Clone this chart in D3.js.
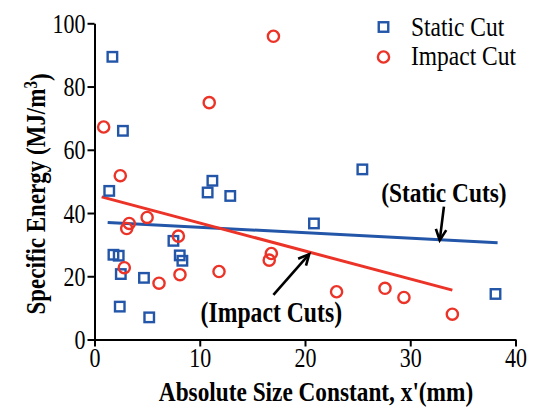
<!DOCTYPE html>
<html>
<head>
<meta charset="utf-8">
<script src="https://cdn.jsdelivr.net/npm/d3@7"></script>
<style>
  body { margin: 0; background: #fff; }
  svg { display: block; }
  text { font-family: "Liberation Serif", "Times New Roman", serif; fill: #000; }
</style>
</head>
<body>
<div id="chart"></div>
<script>
// values
const staticX = [1.7, 2.7, 1.4, 10.75, 11.2, 12.9, 1.8, 2.3, 2.5, 2.4, 4.7, 5.2, 7.5, 8.1, 8.35, 20.85, 25.45, 38.1];
const staticY = [89.4, 66.0, 47.0, 46.5, 50.2, 45.4, 26.8, 26.5, 20.7, 10.4, 19.5, 7.0, 31.2, 26.6, 24.9, 36.7, 53.8, 14.4];
const impactX = [0.87, 2.45, 10.9, 17.0, 3.3, 3.06, 5.0, 7.97, 2.83, 6.13, 8.12, 11.83, 16.8, 16.6, 23.0, 27.6, 29.4, 34.0];
const impactY = [67.2, 51.8, 74.9, 95.9, 36.7, 35.1, 38.6, 32.7, 22.7, 17.8, 20.5, 21.5, 27.2, 25.1, 15.1, 16.2, 13.3, 8.0];

// trend lines (end points)
const staticFit = [[1.25, 37.0], [38.3, 30.6]];
const impactFit = [[0.68, 45.1], [34.0, 15.6]];

const xTicks = [0, 10, 20, 30, 40];
const yTicks = [0, 20, 40, 60, 80, 100];

const blue = "#2356a8";
const red = "#ec3328";
const stretch = 1.2; // the original lettering is taller than Times

const outerWidth = 534;
const outerHeight = 408;
const margin = { top: 23.3, right: 18.5, bottom: 68.5, left: 94.5 };
const width = outerWidth - margin.left - margin.right;
const height = outerHeight - margin.top - margin.bottom;

const svg = d3.select('#chart').append('svg')
  .attr('width', outerWidth)
  .attr('height', outerHeight);

const g = svg.append('g')
  .attr('transform', `translate(${margin.left},${margin.top})`);

const x = d3.scaleLinear().domain([0, 40]).range([0, width]);
const y = d3.scaleLinear().domain([0, 100]).range([height, 0]);

const xAxis = d3.axisBottom(x).tickValues(xTicks).tickSize(7).tickSizeOuter(0);
const yAxis = d3.axisLeft(y).tickValues(yTicks).tickSize(7).tickSizeOuter(0);

const gx = g.append('g')
  .attr('transform', `translate(0,${height})`)
  .call(xAxis);
const gy = g.append('g').call(yAxis);

[gx, gy].forEach(a => {
  a.selectAll('path, line').attr('stroke', '#000').attr('stroke-width', 2);
  a.selectAll('text')
    .style('font-family', '"Liberation Serif", serif')
    .style('font-size', '22px')
    .attr('fill', '#000');
});
gx.selectAll('text')
  .attr('y', 0).attr('dy', 0)
  .attr('transform', `translate(0,27.5) scale(1,${stretch})`);
gy.selectAll('text')
  .attr('x', 0).attr('dy', '0.34em')
  .attr('transform', `translate(-9,0) scale(1,${stretch})`);

// helper for stretched text
function label(parent, px, py, str, size, bold, anchor, rot) {
  return parent.append('text')
    .attr('transform', `translate(${px},${py})${rot ? ' rotate(' + rot + ')' : ''} scale(1,${stretch})`)
    .attr('text-anchor', anchor || 'start')
    .style('font-weight', bold ? 'bold' : 'normal')
    .style('font-size', size + 'px')
    .text(str);
}

// axis titles
label(svg, 316, 401, "Absolute Size Constant, x'(mm)", 23.3, true, 'middle');

const yl = label(svg, 45, 194, null, 23, true, 'middle', -90);
yl.append('tspan').text('Specific Energy (MJ/m');
yl.append('tspan').attr('dy', '-0.45em').style('font-size', '15px').text('3');
yl.append('tspan').attr('dy', '0.45em').text(')');

// trend lines
const line = d3.line().x(d => x(d[0])).y(d => y(d[1]));
g.append('path').datum(staticFit).attr('d', line)
  .attr('fill', 'none').attr('stroke', blue).attr('stroke-width', 3);
g.append('path').datum(impactFit).attr('d', line)
  .attr('fill', 'none').attr('stroke', red).attr('stroke-width', 3);

// points
const staticPts = staticX.map((d, i) => [d, staticY[i]]);
const impactPts = impactX.map((d, i) => [d, impactY[i]]);
const sq = 9.5;

g.selectAll('.sq').data(staticPts).enter().append('rect')
  .attr('x', d => x(d[0]) - sq / 2)
  .attr('y', d => y(d[1]) - sq / 2)
  .attr('width', sq).attr('height', sq)
  .attr('fill', 'none').attr('stroke', blue).attr('stroke-width', 2.4);

g.selectAll('.ci').data(impactPts).enter().append('circle')
  .attr('cx', d => x(d[0]))
  .attr('cy', d => y(d[1]))
  .attr('r', 5.6)
  .attr('fill', 'none').attr('stroke', red).attr('stroke-width', 2.4);

// annotations: label position and arrow (from, tip) in data units
const notes = [
  { text: '(Static Cuts)', at: [33.2, 43.5], size: 23.4, from: [33.2, 42.0], tip: [32.8, 31.4] },
  { text: '(Impact Cuts)', at: [16.8, 5.6], size: 23.7, from: [17.0, 14.1], tip: [20.4, 27.0] }
];

notes.forEach(n => {
  label(g, x(n.at[0]), y(n.at[1]), n.text, n.size, true, 'middle');

  const x1 = x(n.from[0]), y1 = y(n.from[1]);
  const x2 = x(n.tip[0]), y2 = y(n.tip[1]);
  const ang = Math.atan2(y2 - y1, x2 - x1);
  const hl = 12, ha = 0.45;
  g.append('line')
    .attr('x1', x1).attr('y1', y1).attr('x2', x2).attr('y2', y2)
    .attr('stroke', '#000').attr('stroke-width', 2.6);
  g.append('path')
    .attr('d', `M${x2 - hl * Math.cos(ang - ha)},${y2 - hl * Math.sin(ang - ha)}L${x2},${y2}L${x2 - hl * Math.cos(ang + ha)},${y2 - hl * Math.sin(ang + ha)}`)
    .attr('fill', 'none').attr('stroke', '#000').attr('stroke-width', 2.6)
    .attr('stroke-linejoin', 'miter');
});

// legend
const legend = svg.append('g');
legend.append('rect')
  .attr('x', 383.5 - sq / 2).attr('y', 27 - sq / 2)
  .attr('width', sq).attr('height', sq)
  .attr('fill', 'none').attr('stroke', blue).attr('stroke-width', 2.4);
legend.append('circle')
  .attr('cx', 383.5).attr('cy', 57).attr('r', 5.6)
  .attr('fill', 'none').attr('stroke', red).attr('stroke-width', 2.4);
label(legend, 411, 35.5, 'Static Cut', 23.5, false);
label(legend, 411, 65, 'Impact Cut', 23.5, false);
</script>
</body>
</html>
